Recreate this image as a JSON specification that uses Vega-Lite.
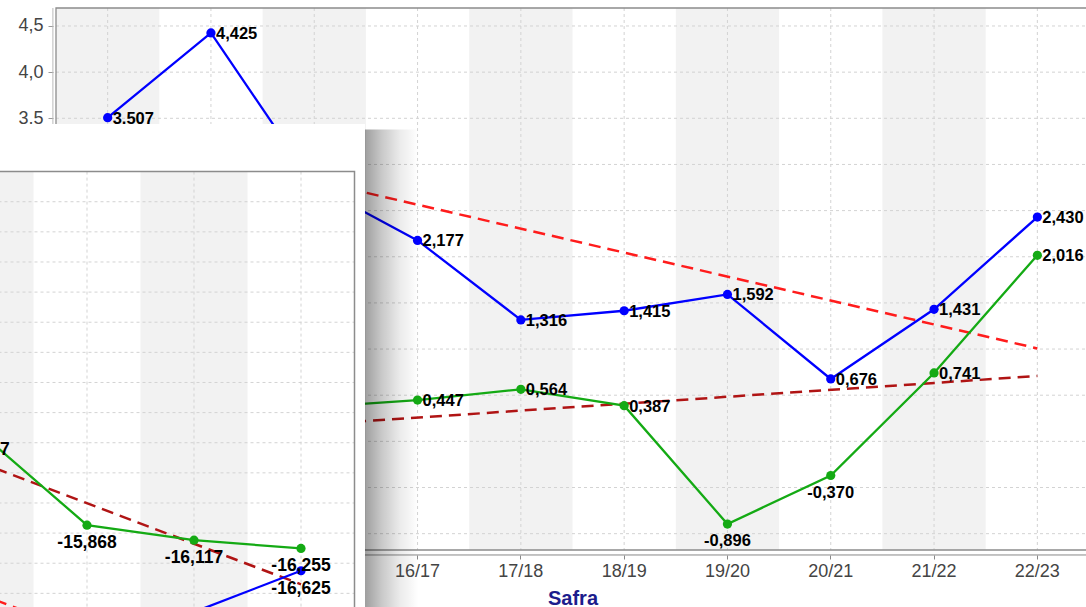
{
  "$schema": "https://vega.github.io/schema/vega-lite/v6.json",
  "width": 1086,
  "height": 607,
  "padding": 0,
  "autosize": {"type": "none"},
  "background": "white",
  "config": {
    "view": {"stroke": null},
    "font": "Liberation Sans",
    "locale": {"number": {"decimal": ",", "thousands": ".", "grouping": [3], "currency": ["R$", ""], "minus": "-"}}
  },
  "datasets": {
    "main": [
      {"safra": "13/14", "serie": "A", "valor": 3.507},
      {"safra": "14/15", "serie": "A", "valor": 4.425},
      {"safra": "15/16", "serie": "A", "valor": 2.778},
      {"safra": "16/17", "serie": "A", "valor": 2.177},
      {"safra": "17/18", "serie": "A", "valor": 1.316},
      {"safra": "18/19", "serie": "A", "valor": 1.415},
      {"safra": "19/20", "serie": "A", "valor": 1.592},
      {"safra": "20/21", "serie": "A", "valor": 0.676},
      {"safra": "21/22", "serie": "A", "valor": 1.431},
      {"safra": "22/23", "serie": "A", "valor": 2.430},
      {"safra": "13/14", "serie": "B", "valor": -0.05},
      {"safra": "14/15", "serie": "B", "valor": 0.49},
      {"safra": "15/16", "serie": "B", "valor": 0.372},
      {"safra": "16/17", "serie": "B", "valor": 0.447},
      {"safra": "17/18", "serie": "B", "valor": 0.564},
      {"safra": "18/19", "serie": "B", "valor": 0.387},
      {"safra": "19/20", "serie": "B", "valor": -0.896},
      {"safra": "20/21", "serie": "B", "valor": -0.370},
      {"safra": "21/22", "serie": "B", "valor": 0.741},
      {"safra": "22/23", "serie": "B", "valor": 2.016}
    ],
    "trend": [
      {"safra": "13/14", "serie": "TA", "valor": 3.343},
      {"safra": "22/23", "serie": "TA", "valor": 1.007},
      {"safra": "13/14", "serie": "TB", "valor": 0.033},
      {"safra": "22/23", "serie": "TB", "valor": 0.708}
    ],
    "mainGrid": [
      {"grade": -1.0}, {"grade": -0.5}, {"grade": 0.0}, {"grade": 0.5}, {"grade": 1.0}, {"grade": 1.5},
      {"grade": 2.0}, {"grade": 2.5}, {"grade": 3.0}, {"grade": 3.5}, {"grade": 4.0}, {"grade": 4.5}
    ],
    "inset": [
      {"safra": "19/20", "serie": "B", "valor": -14.327},
      {"safra": "20/21", "serie": "B", "valor": -15.868},
      {"safra": "21/22", "serie": "B", "valor": -16.117},
      {"safra": "22/23", "serie": "B", "valor": -16.255},
      {"safra": "21/22", "serie": "A", "valor": -17.31},
      {"safra": "22/23", "serie": "A", "valor": -16.625}
    ],
    "insetTrend": [
      {"safra": "13/14", "serie": "TA", "valor": -12.96},
      {"safra": "22/23", "serie": "TA", "valor": -19.04},
      {"safra": "13/14", "serie": "TB", "valor": -10.79},
      {"safra": "22/23", "serie": "TB", "valor": -16.85}
    ],
    "insetGrid": [
      {"grade": -17.5}, {"grade": -17.0}, {"grade": -16.5}, {"grade": -16.0}, {"grade": -15.5},
      {"grade": -15.0}, {"grade": -14.5}, {"grade": -14.0}, {"grade": -13.5}, {"grade": -13.0},
      {"grade": -12.5}, {"grade": -12.0}, {"grade": -11.5}, {"grade": -11.0}, {"grade": -10.5}
    ]
  },
  "layer": [
    {
      "layer": [
        {
          "data": {"name": "main"},
          "transform": [{"filter": {"and": [{"field": "serie", "equal": "A"}, {"field": "safra", "oneOf": ["13/14", "15/16", "17/18", "19/20", "21/22"]}]}}],
          "mark": {"type": "rect", "fill": "#f2f2f2"},
          "encoding": {
            "x": {"field": "safra", "type": "ordinal"},
            "y": {"datum": 4.695},
            "y2": {"datum": -1.177}
          }
        },
        {
          "data": {"name": "mainGrid"},
          "mark": {"type": "rule", "stroke": "#d3d3d3", "strokeDash": [3, 3], "strokeWidth": 1},
          "encoding": {
            "y": {"field": "grade", "type": "quantitative"},
            "x": {"datum": "13/14", "bandPosition": 0},
            "x2": {"datum": "22/23", "bandPosition": 1}
          }
        },
        {
          "data": {"name": "main"},
          "transform": [{"filter": {"field": "serie", "equal": "A"}}],
          "mark": {"type": "rule", "stroke": "#d3d3d3", "strokeDash": [3, 3], "strokeWidth": 1},
          "encoding": {
            "x": {"field": "safra", "type": "ordinal", "bandPosition": 0.5},
            "y": {"datum": 4.695},
            "y2": {"datum": -1.177}
          }
        },
        {
          "data": {"name": "main"},
          "transform": [{"filter": {"field": "safra", "equal": "13/14"}}, {"filter": {"field": "serie", "equal": "A"}}],
          "mark": {"type": "rule", "stroke": "#bbbbbb", "strokeWidth": 1},
          "encoding": {
            "x": {"datum": "13/14", "bandPosition": -0.03},
            "y": {"datum": 4.695},
            "y2": {"datum": -1.231}
          }
        },
        {
          "data": {"name": "main"},
          "transform": [{"filter": {"field": "safra", "equal": "13/14"}}, {"filter": {"field": "serie", "equal": "A"}}],
          "mark": {"type": "rule", "stroke": "#888888", "strokeWidth": 1},
          "encoding": {
            "x": {"datum": "13/14", "bandPosition": -0.03},
            "x2": {"datum": "22/23", "bandPosition": 1},
            "y": {"datum": -1.231}
          }
        },
        {
          "data": {"name": "main"},
          "mark": {"type": "rect", "fillOpacity": 0, "stroke": "#8c8c8c", "strokeWidth": 1.3},
          "transform": [{"filter": {"field": "safra", "equal": "13/14"}}, {"filter": {"field": "serie", "equal": "A"}}],
          "encoding": {
            "x": {"datum": "13/14", "bandPosition": 0},
            "x2": {"datum": "22/23", "bandPosition": 1},
            "y": {"datum": 4.695},
            "y2": {"datum": -1.177}
          }
        },
        {
          "data": {"name": "trend"},
          "mark": {"type": "line", "strokeWidth": 2.5, "strokeDash": [12, 7]},
          "encoding": {
            "x": {"field": "safra", "type": "ordinal"},
            "y": {"field": "valor", "type": "quantitative"},
            "color": {"field": "serie", "type": "nominal", "legend": null}
          }
        },
        {
          "data": {"name": "main"},
          "mark": {"type": "line", "strokeWidth": 2.3},
          "encoding": {
            "x": {
              "field": "safra", "type": "ordinal",
              "scale": {"type": "band", "domain": ["13/14", "14/15", "15/16", "16/17", "17/18", "18/19", "19/20", "20/21", "21/22", "22/23"], "range": [56, 1089], "paddingInner": 0, "paddingOuter": 0},
              "axis": {
                "orient": "bottom", "offset": -52, "title": "Safra", "titleColor": "#1c1c8c", "titleFontSize": 20, "titleFontWeight": "bold", "titlePadding": 8,
                "values": ["16/17", "17/18", "18/19", "19/20", "20/21", "21/22", "22/23"],
                "labelFontSize": 18, "labelColor": "#444444", "labelPadding": 12, "labelAngle": 0, "labelAlign": "center", "tickSize": 4, "tickColor": "#888888",
                "domain": false, "grid": false, "bandPosition": 0.5
              }
            },
            "y": {
              "field": "valor", "type": "quantitative",
              "scale": {"domain": [-1.177, 4.695], "range": [550, 8], "nice": false, "zero": false},
              "axis": {
                "orient": "left", "offset": -53, "title": null, "values": [3.5, 4, 4.5], "format": ".1f",
                "labelFontSize": 18, "labelColor": "#444444", "labelPadding": 5, "tickSize": 5, "tickColor": "#999999",
                "domain": false, "grid": false
              }
            },
            "color": {"field": "serie", "type": "nominal", "legend": null,
              "scale": {"domain": ["A", "B", "TA", "TB"], "range": ["#0000ff", "#14aa14", "#ff1c1c", "#b01414"]}}
          }
        },
        {
          "data": {"name": "main"},
          "mark": {"type": "point", "filled": true, "size": 85, "opacity": 1},
          "encoding": {
            "x": {"field": "safra", "type": "ordinal"},
            "y": {"field": "valor", "type": "quantitative"},
            "color": {"field": "serie", "type": "nominal", "legend": null}
          }
        },
        {
          "data": {"name": "main"},
          "transform": [{"filter": "datum.valor >= 0"}],
          "mark": {"type": "text", "align": "left", "baseline": "middle", "dx": 5, "dy": 1, "fontSize": 16.5, "fontWeight": "bold", "color": "black"},
          "encoding": {
            "x": {"field": "safra", "type": "ordinal"},
            "y": {"field": "valor", "type": "quantitative"},
            "text": {"field": "valor", "type": "quantitative", "format": ".3f"}
          }
        },
        {
          "data": {"name": "main"},
          "transform": [{"filter": "datum.valor < 0"}],
          "mark": {"type": "text", "align": "center", "baseline": "middle", "dy": 17, "fontSize": 16.5, "fontWeight": "bold", "color": "black"},
          "encoding": {
            "x": {"field": "safra", "type": "ordinal"},
            "y": {"field": "valor", "type": "quantitative"},
            "text": {"field": "valor", "type": "quantitative", "format": ".3f"}
          }
        }
      ]
    },
    {
      "layer": [
        {
          "data": {"name": "inset"},
          "transform": [{"filter": {"field": "safra", "equal": "22/23"}}, {"filter": {"field": "serie", "equal": "A"}}],
          "mark": {"type": "rect", "fill": {"gradient": "linear", "x1": 0, "x2": 1, "y1": 0, "y2": 0, "stops": [{"offset": 0, "color": "rgba(0,0,0,0.38)"}, {"offset": 0.3, "color": "rgba(0,0,0,0.22)"}, {"offset": 0.65, "color": "rgba(0,0,0,0.08)"}, {"offset": 1, "color": "rgba(0,0,0,0)"}]}},
          "encoding": {
            "x": {"datum": "22/23", "bandPosition": 1.098},
            "x2": {"datum": "22/23", "bandPosition": 1.6},
            "y": {"datum": -9.3},
            "y2": {"datum": -18}
          }
        },
        {
          "data": {"name": "inset"},
          "transform": [{"filter": {"field": "safra", "equal": "22/23"}}, {"filter": {"field": "serie", "equal": "A"}}],
          "mark": {"type": "rect", "fill": "white"},
          "encoding": {
            "x": {"datum": "13/14", "bandPosition": 0},
            "x2": {"datum": "22/23", "bandPosition": 1.098},
            "y": {"datum": -9.21},
            "y2": {"datum": -18}
          }
        },
        {
          "data": {"name": "main"},
          "transform": [{"filter": {"and": [{"field": "serie", "equal": "A"}, {"field": "safra", "oneOf": ["13/14", "15/16", "17/18", "19/20", "21/22"]}]}}],
          "mark": {"type": "rect", "fill": "#f2f2f2"},
          "encoding": {
            "x": {"field": "safra", "type": "ordinal"},
            "y": {"datum": -10},
            "y2": {"datum": -18}
          }
        },
        {
          "data": {"name": "insetGrid"},
          "mark": {"type": "rule", "stroke": "#d3d3d3", "strokeDash": [3, 3], "strokeWidth": 1},
          "encoding": {
            "y": {"field": "grade", "type": "quantitative"},
            "x": {"datum": "13/14", "bandPosition": 0},
            "x2": {"datum": "22/23", "bandPosition": 1}
          }
        },
        {
          "data": {"name": "main"},
          "transform": [{"filter": {"field": "serie", "equal": "A"}}],
          "mark": {"type": "rule", "stroke": "#d3d3d3", "strokeDash": [3, 3], "strokeWidth": 1},
          "encoding": {
            "x": {"field": "safra", "type": "ordinal", "bandPosition": 0.5},
            "y": {"datum": -10},
            "y2": {"datum": -18}
          }
        },
        {
          "data": {"name": "inset"},
          "transform": [{"filter": {"field": "safra", "equal": "22/23"}}, {"filter": {"field": "serie", "equal": "A"}}],
          "mark": {"type": "rect", "fillOpacity": 0, "stroke": "#8c8c8c", "strokeWidth": 1.5},
          "encoding": {
            "x": {"datum": "13/14", "bandPosition": 0},
            "x2": {"datum": "22/23", "bandPosition": 1},
            "y": {"datum": -10},
            "y2": {"datum": -18}
          }
        },
        {
          "data": {"name": "insetTrend"},
          "mark": {"type": "line", "strokeWidth": 2.5, "strokeDash": [12, 7]},
          "encoding": {
            "x": {"field": "safra", "type": "ordinal"},
            "y": {"field": "valor", "type": "quantitative"},
            "color": {"field": "serie", "type": "nominal", "legend": null}
          }
        },
        {
          "data": {"name": "inset"},
          "mark": {"type": "line", "strokeWidth": 2.3},
          "encoding": {
            "x": {
              "field": "safra", "type": "ordinal",
              "scale": {"type": "band", "domain": ["13/14", "14/15", "15/16", "16/17", "17/18", "18/19", "19/20", "20/21", "21/22", "22/23"], "range": [-715.5, 354.5], "paddingInner": 0, "paddingOuter": 0},
              "axis": {"orient": "bottom", "title": null, "labels": false, "ticks": false, "domain": false, "grid": false}
            },
            "y": {
              "field": "valor", "type": "quantitative",
              "scale": {"domain": [-18, -10], "range": [653.6, 171.6], "nice": false, "zero": false},
              "axis": {"orient": "left", "title": null, "labels": false, "ticks": false, "domain": false, "grid": false}
            },
            "color": {"field": "serie", "type": "nominal", "legend": null,
              "scale": {"domain": ["A", "B", "TA", "TB"], "range": ["#0000ff", "#14aa14", "#ff1c1c", "#b01414"]}}
          }
        },
        {
          "data": {"name": "inset"},
          "mark": {"type": "point", "filled": true, "size": 85, "opacity": 1},
          "encoding": {
            "x": {"field": "safra", "type": "ordinal"},
            "y": {"field": "valor", "type": "quantitative"},
            "color": {"field": "serie", "type": "nominal", "legend": null}
          }
        },
        {
          "data": {"name": "inset"},
          "mark": {"type": "text", "align": "center", "baseline": "middle", "dy": 18, "fontSize": 17.5, "fontWeight": "bold", "color": "black"},
          "encoding": {
            "x": {"field": "safra", "type": "ordinal"},
            "y": {"field": "valor", "type": "quantitative"},
            "text": {"field": "valor", "type": "quantitative", "format": ".3f"}
          }
        }
      ]
    }
  ],
  "resolve": {
    "scale": {"x": "independent", "y": "independent", "color": "independent"},
    "axis": {"x": "independent", "y": "independent"}
  }
}
